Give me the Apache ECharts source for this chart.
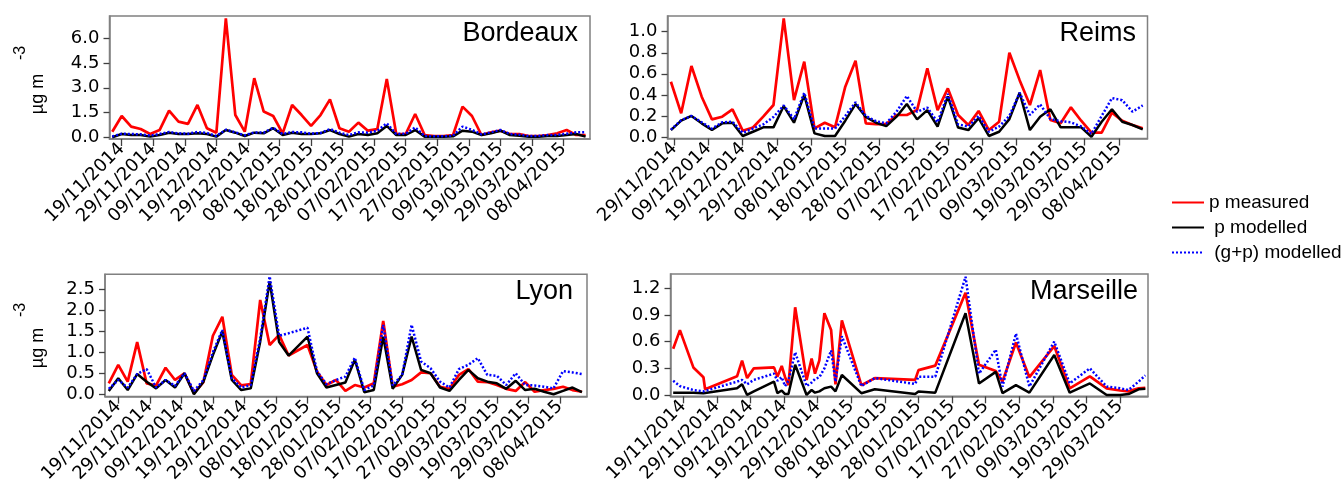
<!DOCTYPE html>
<html><head><meta charset="utf-8">
<script src="https://cdn.jsdelivr.net/npm/echarts@6/dist/echarts.min.js"></script>
<style>html,body{margin:0;padding:0;background:#fff}#c{width:1343px;height:486px}</style>
</head><body><div id="c"></div><script>
// x values are days after 19/11/2014
const xTickLabels = ['19/11/2014','29/11/2014','09/12/2014','19/12/2014','29/12/2014','08/01/2015','18/01/2015','28/01/2015','07/02/2015','17/02/2015','27/02/2015','09/03/2015','19/03/2015','29/03/2015','08/04/2015'];
const seriesNames = ['p measured','p modelled','(g+p) modelled'];

// Bordeaux
const bdxDay = [-3,0,3,6,9,12,15,18,21,24,27,30,33,36,39,42,45,48,51,54,57,60,63,66,69,72,75,78,81,84,87,90,93,96,99,102,105,108,111,114,117,120,123,126,129,132,135,138,141,144,147];
const bdxMeas = [0.34,1.29,0.65,0.5,0.2,0.44,1.62,0.95,0.81,1.96,0.55,0.28,7.2,1.35,0.34,3.58,1.56,1.29,0.24,1.96,1.35,0.69,1.35,2.3,0.55,0.34,0.89,0.4,0.5,3.54,0.2,0.2,1.41,0.14,0.08,0.08,0.14,1.86,1.29,0.14,0.3,0.4,0.2,0.2,0.08,0.08,0.14,0.24,0.44,0.14,0.14];
const bdxModP = [0.0,0.2,0.14,0.14,0.04,0.14,0.28,0.2,0.2,0.24,0.2,0.04,0.44,0.28,0.08,0.28,0.24,0.55,0.14,0.28,0.2,0.2,0.24,0.44,0.2,0.04,0.2,0.14,0.24,0.69,0.14,0.14,0.44,0.04,0.04,0.04,0.06,0.4,0.34,0.14,0.24,0.4,0.14,0.1,0.04,0.04,0.08,0.08,0.14,0.2,0.04];
const bdxModGP = [0.05,0.22,0.2,0.18,0.1,0.2,0.32,0.24,0.22,0.32,0.26,0.08,0.46,0.3,0.12,0.3,0.28,0.58,0.2,0.32,0.3,0.22,0.26,0.5,0.28,0.14,0.3,0.28,0.4,0.85,0.2,0.22,0.6,0.08,0.06,0.06,0.1,0.65,0.45,0.18,0.3,0.45,0.2,0.16,0.08,0.08,0.14,0.14,0.22,0.3,0.3];

// Reims
const rmsDay = [9,12,15,18,21,24,27,30,33,36,39,42,45,48,51,54,57,60,63,66,69,72,75,78,81,84,87,90,93,96,99,102,105,108,111,114,117,120,123,126,129,132,135,138,141,144,147];
const rmsMeas = [0.525,0.225,0.674,0.383,0.168,0.193,0.263,0.06,0.09,0.193,0.304,1.127,0.351,0.715,0.082,0.136,0.092,0.478,0.725,0.13,0.123,0.123,0.209,0.209,0.256,0.652,0.256,0.462,0.209,0.114,0.247,0.066,0.145,0.8,0.54,0.304,0.636,0.161,0.13,0.282,0.155,0.041,0.041,0.231,0.155,0.114,0.082];
const rmsModP = [0.066,0.155,0.2,0.13,0.066,0.13,0.136,0.01,0.05,0.092,0.092,0.294,0.136,0.4,0.035,0.01,0.01,0.155,0.313,0.19,0.136,0.104,0.193,0.313,0.168,0.256,0.1,0.386,0.09,0.066,0.18,0.01,0.05,0.17,0.42,0.066,0.193,0.263,0.092,0.092,0.092,0.003,0.145,0.263,0.145,0.114,0.073];
const rmsModGP = [0.07,0.16,0.2,0.14,0.08,0.14,0.145,0.04,0.08,0.12,0.19,0.3,0.17,0.42,0.08,0.08,0.08,0.2,0.33,0.2,0.15,0.13,0.24,0.39,0.24,0.28,0.14,0.41,0.12,0.1,0.2,0.05,0.1,0.2,0.42,0.21,0.31,0.17,0.15,0.14,0.1,0.03,0.2,0.37,0.35,0.24,0.3];

// Lyon
const lyoDay = [-3,0,3,6,9,12,15,18,21,24,27,30,33,36,39,42,45,48,51,54,60,63,66,69,72,75,78,81,84,87,90,93,96,99,102,105,108,111,114,117,120,123,126,129,132,135,138,141,144,147];
const lyoMeas = [0.26,0.7,0.3,1.24,0.26,0.21,0.63,0.34,0.5,0.02,0.29,1.39,1.84,0.46,0.21,0.24,2.24,1.17,1.41,0.92,1.17,0.54,0.22,0.34,0.08,0.22,0.16,0.26,1.74,0.18,0.24,0.34,0.52,0.5,0.18,0.13,0.46,0.6,0.3,0.29,0.22,0.13,0.08,0.29,0.06,0.1,0.13,0.18,0.1,0.06];
const lyoModP = [0.08,0.38,0.1,0.48,0.3,0.14,0.34,0.16,0.5,0.0,0.3,0.93,1.49,0.34,0.1,0.14,1.25,2.68,1.24,0.92,1.37,0.5,0.16,0.22,0.28,0.82,0.05,0.1,1.37,0.13,0.46,1.37,0.58,0.5,0.16,0.08,0.34,0.58,0.38,0.3,0.26,0.13,0.32,0.1,0.13,0.06,0.0,0.08,0.16,0.05];
const lyoModGP = [0.13,0.34,0.16,0.48,0.6,0.16,0.34,0.2,0.5,0.08,0.34,1.0,1.53,0.38,0.16,0.22,1.33,2.8,1.39,1.45,1.58,0.55,0.24,0.34,0.42,0.87,0.1,0.21,1.65,0.21,0.46,1.65,0.78,0.62,0.3,0.16,0.6,0.7,0.86,0.46,0.44,0.22,0.5,0.22,0.21,0.18,0.14,0.55,0.52,0.48];

// Marseille
const mrsDay = [-3,-1,3,6,6.5,16,17.5,19,21,27,28,29.3,30.3,31.3,33.3,36.7,38.2,39.2,40.5,42,44,45.3,47.2,53,57,69,70,75,84,88,93,95,99,103,110.4,115,121,126,130,132.5,135.5,137.5];
const mrsMeas = [0.52,0.73,0.31,0.2,0.064,0.21,0.386,0.19,0.3,0.31,0.206,0.326,0.2,0.11,0.986,0.169,0.41,0.24,0.39,0.92,0.73,0.12,0.84,0.11,0.19,0.17,0.28,0.33,1.15,0.34,0.27,0.15,0.59,0.2,0.55,0.075,0.21,0.075,0.05,0.04,0.075,0.08];
const mrsModP = [0.026,0.026,0.026,0.02,0.02,0.075,0.12,0.0,0.04,0.15,0.02,0.05,0.01,0.01,0.34,0.0,0.056,0.026,0.04,0.075,0.094,0.04,0.225,0.02,0.064,0.01,0.04,0.026,0.92,0.13,0.26,0.02,0.11,0.026,0.45,0.026,0.13,0.0,0.0,0.01,0.064,0.07];
const mrsModGP = [0.16,0.1,0.056,0.04,0.04,0.15,0.17,0.12,0.17,0.24,0.16,0.2,0.1,0.16,0.48,0.1,0.14,0.18,0.2,0.3,0.5,0.15,0.66,0.1,0.19,0.124,0.206,0.206,1.33,0.24,0.51,0.094,0.69,0.094,0.6,0.13,0.3,0.094,0.075,0.056,0.15,0.22];

const bdxYTicks = [0,1.5,3,4.5,6];
const rmsYTicks = [0,0.2,0.4,0.6,0.8,1.0];
const lyoYTicks = [0,0.5,1,1.5,2,2.5];
const mrsYTicks = [0,0.3,0.6,0.9,1.2];

const DAY0 = Date.UTC(2014,10,19);
function labelToDay(s){const p=s.split('/');return Math.round((Date.UTC(+p[2],+p[1]-1,+p[0])-DAY0)/86400000);}
function dayToLabel(d){const t=new Date(DAY0+Math.round(d)*86400000);const dd=String(t.getUTCDate()).padStart(2,'0');const mm=String(t.getUTCMonth()+1).padStart(2,'0');return dd+'/'+mm+'/'+t.getUTCFullYear();}

const FONT = 'Liberation Sans';
const TICKFONT = 'DejaVu Sans';
const panels = [
  {name:'Bordeaux', grid:{left:109.5,top:16,width:480.5,height:123}, x:[-3.87,148.4], y:[-0.103,7.35], yt:bdxYTicks, xt:xTickLabels, day:bdxDay, s:[bdxMeas,bdxModP,bdxModGP], titleRight:1343-578, titleTop:20},
  {name:'Reims', grid:{left:667.5,top:16,width:480,height:122.5}, x:[8.0,148.4], y:[-0.014,1.149], yt:rmsYTicks, xt:xTickLabels.slice(1), day:rmsDay, s:[rmsMeas,rmsModP,rmsModGP], titleRight:1343-1136, titleTop:20},
  {name:'Lyon', grid:{left:105,top:274.3,width:482,height:122.3}, x:[-4.2,148.6], y:[-0.055,2.85], yt:lyoYTicks, xt:xTickLabels, day:lyoDay, s:[lyoMeas,lyoModP,lyoModGP], titleRight:1343-573, titleTop:278},
  {name:'Marseille', grid:{left:670.5,top:274,width:477.5,height:122.3}, x:[-3.8,138.3], y:[-0.015,1.361], yt:mrsYTicks, xt:xTickLabels.slice(0,14), day:mrsDay, s:[mrsMeas,mrsModP,mrsModGP], titleRight:1343-1138, titleTop:278}
];
const styles = [
  {color:'#ff0000', width:2.7, type:'solid'},
  {color:'#000000', width:2.5, type:'solid'},
  {color:'#0000ff', width:2.5, type:[2,2]}
];
const frame = '#808080';
const grids=[], xAxes=[], yAxes=[], series=[], titles=[];
panels.forEach((p,i)=>{
  grids.push(Object.assign({show:true, borderColor:frame, borderWidth:1.5, backgroundColor:'transparent', containLabel:false}, p.grid));
  const xt = p.xt.map(labelToDay);
  xAxes.push({type:'value', gridIndex:i, min:p.x[0], max:p.x[1], splitLine:{show:false},
    axisLine:{show:true, onZero:false, lineStyle:{color:frame,width:1.5}},
    axisTick:{show:true, customValues:xt, length:7, lineStyle:{color:'#404040',width:1.3}},
    axisLabel:{customValues:xt, rotate:45, margin:7, fontSize:18, fontFamily:TICKFONT, color:'#000', formatter:v=>dayToLabel(v)}});
  yAxes.push({type:'value', gridIndex:i, min:p.y[0], max:p.y[1], splitLine:{show:false},
    axisLine:{show:true, onZero:false, lineStyle:{color:frame,width:1.5}},
    axisTick:{show:true, customValues:p.yt, length:6, lineStyle:{color:'#404040',width:1.3}},
    axisLabel:{customValues:p.yt, margin:10, fontSize:18, fontFamily:TICKFONT, color:'#000', formatter:v=>v.toFixed(1)}});
  p.s.forEach((vals,k)=>{
    series.push({type:'line', name:seriesNames[k], xAxisIndex:i, yAxisIndex:i, symbol:'none', showSymbol:false,
      data:p.day.map((d,j)=>[d, vals[j]]), lineStyle:styles[k], itemStyle:{color:styles[k].color}, z:2+k, clip:true});
  });
  titles.push({text:p.name, right:p.titleRight, top:p.titleTop, padding:0, textStyle:{fontSize:27, fontWeight:'normal', fontFamily:FONT, color:'#000'}});
});

const chart = echarts.init(document.getElementById('c'), null, {renderer:'canvas'});
chart.setOption({
  animation:false,
  backgroundColor:'#fff',
  title:titles,
  grid:grids, xAxis:xAxes, yAxis:yAxes, series:series,
  legend:{data:seriesNames, orient:'vertical', left:1166, top:188, itemWidth:32, itemHeight:12, itemGap:6,
    itemStyle:{opacity:0},
    textStyle:{fontSize:19, fontFamily:FONT, color:'#000'},
    formatter:n=> n==='p measured'? n : ' '+n},
  graphic:[
    {type:'text', x:38, y:94, rotation:Math.PI/2, style:{text:'µg m', font:'18px "Liberation Sans"', align:'center', verticalAlign:'middle', fill:'#000'}},
    {type:'text', x:21, y:53, rotation:Math.PI/2, style:{text:'-3', font:'16px "Liberation Sans"', align:'center', verticalAlign:'middle', fill:'#000'}},
    {type:'text', x:38, y:348, rotation:Math.PI/2, style:{text:'µg m', font:'18px "Liberation Sans"', align:'center', verticalAlign:'middle', fill:'#000'}},
    {type:'text', x:21, y:310, rotation:Math.PI/2, style:{text:'-3', font:'16px "Liberation Sans"', align:'center', verticalAlign:'middle', fill:'#000'}}
  ]
});
</script></body></html>
